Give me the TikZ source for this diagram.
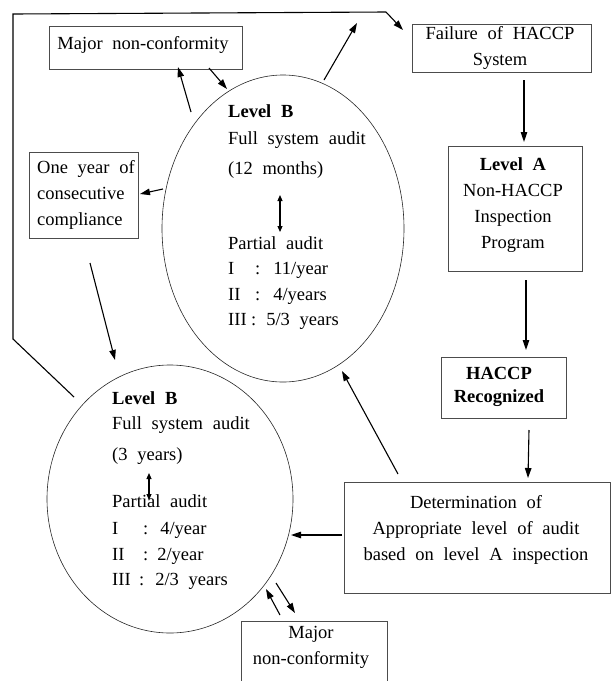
\documentclass[tikz,border=0pt]{standalone}
\usepackage{fontspec}
\setmainfont{Liberation Serif}[WordSpace=2.1]
\usetikzlibrary{arrows.meta,shapes.geometric}
\begin{document}
\begin{tikzpicture}[x=1pt,y=-1pt,
  box/.style={draw=black!70,line width=0.6pt,rectangle,inner sep=0pt},
  ell/.style={draw=black!85,line width=0.6pt,ellipse,inner sep=0pt},
  txt/.style={inner sep=0pt,font=\fontsize{18.5}{26}\selectfont},
  arr/.style={line width=1.1pt,-{Triangle[length=10pt,width=6.5pt]}},
  dbl/.style={line width=1.1pt,{Triangle[length=6pt,width=5pt]}-{Triangle[length=6pt,width=5pt]}},
  plain/.style={line width=1.1pt}]
\useasboundingbox (0,0) rectangle (611,681);
\clip (0,0) rectangle (611,681);

% ellipses
\node[ell,minimum width=242pt,minimum height=307pt] (ellU) at (283,228.5) {};
\node[ell,minimum width=246pt,minimum height=268pt] (ellL) at (170,499) {};

% boxes
\node[box,minimum width=193pt,minimum height=43pt] (majT) at (145.5,47.5) {};
\node[box,minimum width=179pt,minimum height=48pt] (fail) at (501.5,48) {};
\node[box,minimum width=134pt,minimum height=125pt] (levA) at (515,208.5) {};
\node[box,minimum width=125pt,minimum height=61pt] (hrec) at (503.5,387.5) {};
\node[box,minimum width=266pt,minimum height=111pt] (det) at (477,537.5) {};
\node[box,minimum width=109pt,minimum height=86pt] (oney) at (83.5,195) {};
\node[box,minimum width=146pt,minimum height=90pt] (majB) at (314,666) {};

% box texts
\node[txt,anchor=mid] (majTt) at (143,47) {Major non-conformity};
\node[txt,align=center] (failt) at (500,47.5) {Failure of HACCP\\System};
\node[txt,align=center] (levAt) at (513,205.5) {\textbf{Level A}\\Non-HACCP\\Inspection\\Program};
\node[txt,align=center,font=\fontsize{18.5}{23}\selectfont\bfseries] (hrect) at (499,386.5) {HACCP\\Recognized};
\node[txt,align=center] (dett) at (476,530) {Determination of\\Appropriate level of audit\\based on level A inspection};
\node[txt,align=left,anchor=west] (oneyt) at (37,195) {One year of\\consecutive\\compliance};
\node[txt,align=center] (majBt) at (311,647) {Major\\non-conformity};

% upper ellipse texts
\node[txt,anchor=mid west] (u1) at (228,115) {\textbf{Level B}};
\node[txt,anchor=mid west] (u2) at (228,142) {Full system audit};
\node[txt,anchor=mid west] (u3) at (228,172) {(12 months)};
\node[txt,anchor=mid west] (u4) at (228,247) {Partial audit};
\node[txt,anchor=mid west] (u5) at (228,272) {\makebox[27pt][l]{I}:\hspace{13pt}11/year};
\node[txt,anchor=mid west] (u6) at (228,298) {\makebox[27pt][l]{II}:\hspace{13pt}4/years};
\node[txt,anchor=mid west] (u7) at (228,323) {\makebox[23pt][l]{III}:\hspace{10pt}5/3 years};

% lower ellipse texts
\node[txt,anchor=mid west] (l1) at (112,402) {\textbf{Level B}};
\node[txt,anchor=mid west] (l2) at (112,427) {Full system audit};
\node[txt,anchor=mid west] (l3) at (112,458) {(3 years)};
\node[txt,anchor=mid west] (l4) at (112,505) {Partial audit};
\node[txt,anchor=mid west] (l5) at (112,532) {\makebox[31pt][l]{I}:\hspace{12pt}4/year};
\node[txt,anchor=mid west] (l6) at (112,558) {\makebox[31pt][l]{II}:\hspace{9pt}2/year};
\node[txt,anchor=mid west] (l7) at (112,583) {\makebox[27pt][l]{III}:\hspace{11pt}2/3 years};

% connector end points
\coordinate (a1s) at (191,112); \coordinate (a1e) at (178,67);
\coordinate (a2s) at (209,68);  \coordinate (a2e) at (227,89);
\coordinate (a3s) at (324,80);  \coordinate (a3e) at (357,23);
\coordinate (p0) at (74,397); \coordinate (p1) at (13,339); \coordinate (p2) at (13,14);
\coordinate (p3) at (386,12); \coordinate (p4) at (403,30);
\coordinate (a5s) at (524,80);  \coordinate (a5e) at (524,142);
\coordinate (a6s) at (526,280); \coordinate (a6e) at (526,350);
\coordinate (a7s) at (529,430); \coordinate (a7e) at (528,478);
\coordinate (a8s) at (342,535); \coordinate (a8e) at (291,535);
\coordinate (a9s) at (398,474); \coordinate (a9e) at (342,371);
\coordinate (a10s) at (163,189); \coordinate (a10e) at (140,194);
\coordinate (a11s) at (90,263); \coordinate (a11e) at (115,360);
\coordinate (a12s) at (276,583); \coordinate (a12e) at (295,613);
\coordinate (a13s) at (280,615); \coordinate (a13e) at (266,589);
\coordinate (d1s) at (280,195); \coordinate (d1e) at (280,232);
\coordinate (d2s) at (149,473); \coordinate (d2e) at (149,500);

% connectors
\draw[arr] (a1s) -- (a1e);
\draw[arr] (a2s) -- (a2e);
\draw[arr] (a3s) -- (a3e);
\draw[plain] (p0) -- (p1) -- (p2) -- (p3);
\draw[arr] (p3) -- (p4);
\draw[arr] (a5s) -- (a5e);
\draw[arr] (a6s) -- (a6e);
\draw[arr] (a7s) -- (a7e);
\draw[arr] (a8s) -- (a8e);
\draw[arr] (a9s) -- (a9e);
\draw[arr] (a10s) -- (a10e);
\draw[arr] (a11s) -- (a11e);
\draw[arr] (a12s) -- (a12e);
\draw[arr] (a13s) -- (a13e);
\draw[dbl] (d1s) -- (d1e);
\draw[dbl] (d2s) -- (d2e);
\end{tikzpicture}
\end{document}
